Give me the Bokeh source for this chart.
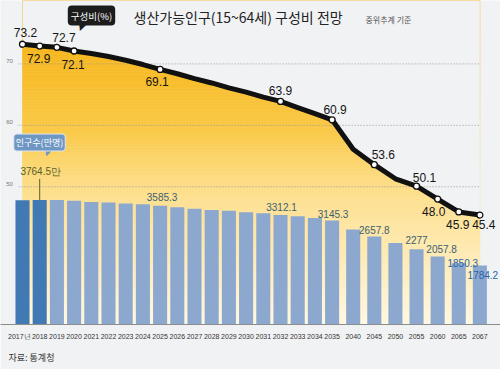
from bokeh.plotting import figure
from bokeh.models import Range1d, FixedTicker, ColumnDataSource, Label, Title
from bokeh.core.properties import value
from bokeh.embed import file_html
from bokeh.resources import INLINE

# ---------------- data ----------------
years = ["2017년", "2018", "2019", "2020", "2021", "2022", "2023", "2024", "2025",
         "2026", "2027", "2028", "2029", "2030", "2031", "2032", "2033", "2034",
         "2035", "2040", "2045", "2050", "2055", "2060", "2065", "2067"]
share = [73.2, 72.9, 72.7, 72.1, 71.7, 71.2, 70.6, 69.9, 69.1,
         68.4, 67.6, 66.9, 66.1, 65.4, 64.6, 63.9, 62.9, 61.9,
         60.9, 56.1, 53.6, 51.3, 50.1, 48.0, 45.9, 45.4]
population = [3757, 3764.5, 3763, 3736, 3705, 3687, 3659, 3630, 3585.3,
              3540, 3498, 3458, 3437, 3390, 3360, 3312.1, 3269, 3220,
              3145.3, 2868, 2657.8, 2461, 2277, 2057.8, 1850.3, 1784.2]
share_labeled = ["2017년", "2018", "2019", "2020", "2025", "2032", "2035",
                 "2045", "2055", "2060", "2065", "2067"]
pop_labeled = ["2018", "2025", "2032", "2035", "2045", "2055", "2060", "2065", "2067"]
highlight_years = ["2017년", "2018"]
grid_values = [70, 60, 50]

title_text = "생산가능인구(15~64세) 구성비 전망"
subtitle_text = "중위추계 기준"
source_text = "자료: 통계청"
share_tag = "구성비(%)"
pop_tag = "인구수(만명)"

# ---------------- styling ----------------
BG = "#f1f2f4"
NUM = "Liberation Sans"
KR = "Noto Sans CJK KR"
last_annual = years.index("2035")
positions = [i * 22 if i <= last_annual else last_annual * 22 + (i - last_annual) * 27
             for i in range(len(years))]
pos_of = dict(zip(years, positions))
share_of = dict(zip(years, share))
pop_of = dict(zip(years, population))

share_off = {"2017년": (3, -12), "2018": (-1, 12), "2019": (7, -10), "2020": (-1, 13),
             "2025": (-3, 12), "2032": (0, -11), "2035": (3, -10), "2045": (9, -10),
             "2055": (8, -9), "2060": (-4, 12), "2065": (-1, 13), "2067": (4, 9)}
pop_off = {"2018": (1, -28), "2025": (2, -9), "2032": (1, -8), "2035": (1, -6),
           "2045": (0, -7), "2055": (0, -9), "2060": (4, -7), "2065": (4, 0), "2067": (3, 10)}
pop_col = {"2018": "#56602c", "2065": "#2b62a8", "2067": "#2b62a8"}

Y_LO, Y_HI = 27.581, 80.323
p = figure(width=500, height=369, output_backend="svg", toolbar_location=None,
           x_range=Range1d(-28.14, 611.4), y_range=Range1d(Y_LO, Y_HI),
           y_axis_location=None, min_border_left=0, min_border_right=0,
           min_border_top=0, min_border_bottom=42,
           background_fill_color=BG, border_fill_color=BG, outline_line_color=None)
p.extra_y_ranges = {"bars": Range1d(0, 9790)}
p.xgrid.visible = False
p.ygrid.visible = False

# vertical yellow gradient under the line: horizontal bands, then a mask above the line
stops = [(80.3, (245, 173, 8)), (60.0, (250, 200, 68)), (50.0, (253, 222, 138)),
         (27.5, (255, 248, 226))]
def grad(v):
    for (v0, c0), (v1, c1) in zip(stops[:-1], stops[1:]):
        if v1 <= v <= v0:
            t = (v0 - v) / (v0 - v1)
            return "#%02x%02x%02x" % tuple(round(a + (b - a) * t) for a, b in zip(c0, c1))
    return "#%02x%02x%02x" % stops[-1][1]
nb = 110
edges = [Y_LO + (Y_HI - Y_LO) * k / nb for k in range(nb + 1)]
bcols = [grad((a + b) / 2) for a, b in zip(edges[:-1], edges[1:])]
p.quad(left=positions[0], right=positions[-1], bottom=edges[:-1], top=edges[1:],
       fill_color=bcols, line_color=bcols, line_width=0.6)
p.varea(x=positions, y1=share, y2=Y_HI, fill_color=BG)

# dotted grid lines with tiny labels
p.segment(x0=positions[0] - 5, x1=positions[-1], y0=grid_values, y1=grid_values,
          line_color="#9a9a9a", line_dash="1 2", line_width=1)
p.text(x=positions[0], y=grid_values, text=[str(g) for g in grid_values],
       x_offset=-13, y_offset=-1, text_font=value(NUM), text_font_size="6px",
       text_color="#777777", text_align="center", text_baseline="bottom")

# bars
bar_cols = ["#4179b5" if y in highlight_years else "#8ca8cf" for y in years]
p.vbar(x=positions, top=population, width=18, y_range_name="bars",
       fill_color=bar_cols, line_color=None)

# bar labels
bsrc = ColumnDataSource(dict(
    x=[pos_of[y] for y in pop_labeled],
    y=[pop_of[y] for y in pop_labeled],
    t=[f"{pop_of[y]:g}" + ("만" if y == "2018" else "") for y in pop_labeled],
    dx=[pop_off[y][0] for y in pop_labeled],
    dy=[pop_off[y][1] for y in pop_labeled],
    c=[pop_col.get(y, "#3c6070") for y in pop_labeled]))
p.text(x="x", y="y", text="t", x_offset="dx", y_offset="dy", text_color="c",
       source=bsrc, y_range_name="bars", text_font=value(NUM),
       text_font_size="10px", text_align="center", text_baseline="middle")
p.ray(x=[pos_of["2018"]], y=[pop_of["2018"]], length=21, length_units="screen",
      angle=90, angle_units="deg", y_range_name="bars", line_color="#56602c", line_width=1)

# share line
p.line(positions, share, line_width=5, line_color="#111111", line_join="round", line_cap="round")
p.scatter([pos_of[y] for y in share_labeled], [share_of[y] for y in share_labeled],
          size=6, fill_color="white", line_color="#111111", line_width=1.3)
ssrc = ColumnDataSource(dict(
    x=[pos_of[y] for y in share_labeled],
    y=[share_of[y] for y in share_labeled],
    t=[f"{share_of[y]:.1f}" for y in share_labeled],
    dx=[share_off[y][0] for y in share_labeled],
    dy=[share_off[y][1] for y in share_labeled]))
p.text(x="x", y="y", text="t", x_offset="dx", y_offset="dy", source=ssrc,
       text_font=value(NUM), text_font_size="12px", text_color="#151515",
       text_align="center", text_baseline="middle")

# x axis (first label nudged left so that "2017년" does not touch "2018")
tick_pos = [positions[0] - 4] + positions[1:]
p.xaxis.ticker = FixedTicker(ticks=tick_pos)
p.xaxis.major_label_overrides = dict(zip(tick_pos, years))
p.xaxis.axis_line_color = "#8c8c8c"
p.xaxis.major_tick_line_color = None
p.xaxis.minor_tick_line_color = None
p.xaxis.major_label_standoff = 2
p.xaxis.major_label_text_font = NUM
p.xaxis.major_label_text_font_size = "7px"
p.xaxis.major_label_text_color = "#333333"

# source line below the axis
p.add_layout(Title(text=source_text, align="left", offset=8, standoff=12,
                   text_font=KR, text_font_size="9px", text_font_style="normal",
                   text_color="#333333"), "below")

# titles and call-outs (screen units: from the frame's bottom-left corner)
p.add_layout(Label(x=133, y=307.5, x_units="screen", y_units="screen", text=title_text,
                   text_font=KR, text_font_size="14px", text_color="#222222",
                   text_align="left", text_baseline="middle"))
p.add_layout(Label(x=365, y=305.5, x_units="screen", y_units="screen", text=subtitle_text,
                   text_font=KR, text_font_size="8px", text_color="#555555",
                   text_align="left", text_baseline="middle"))
p.add_layout(Label(x=81, y=298, x_units="screen", y_units="screen", text="▼", angle=-0.35,
                   text_font="DejaVu Sans", text_font_size="10px", text_color="#1c1c1c",
                   text_align="center", text_baseline="middle"))
p.add_layout(Label(x=91, y=309, x_units="screen", y_units="screen", text=share_tag,
                   text_font=KR, text_font_size="9.5px", text_color="white",
                   text_align="center", text_baseline="middle",
                   background_fill_color="#1c1c1c", background_fill_alpha=1,
                   border_radius=4, padding=3))
p.add_layout(Label(x=47, y=172, x_units="screen", y_units="screen", text="▼", angle=-0.3,
                   text_font="DejaVu Sans", text_font_size="9px", text_color="#6f97c4",
                   text_align="center", text_baseline="middle"))
p.add_layout(Label(x=39, y=182, x_units="screen", y_units="screen", text=pop_tag,
                   text_font=KR, text_font_size="9px", text_color="white",
                   text_align="center", text_baseline="middle",
                   background_fill_color="#6f97c4", background_fill_alpha=1,
                   border_line_color="#dfe8f3", border_line_width=1,
                   border_radius=3, padding=2))

open("out.html", "w").write(file_html(p, INLINE))
